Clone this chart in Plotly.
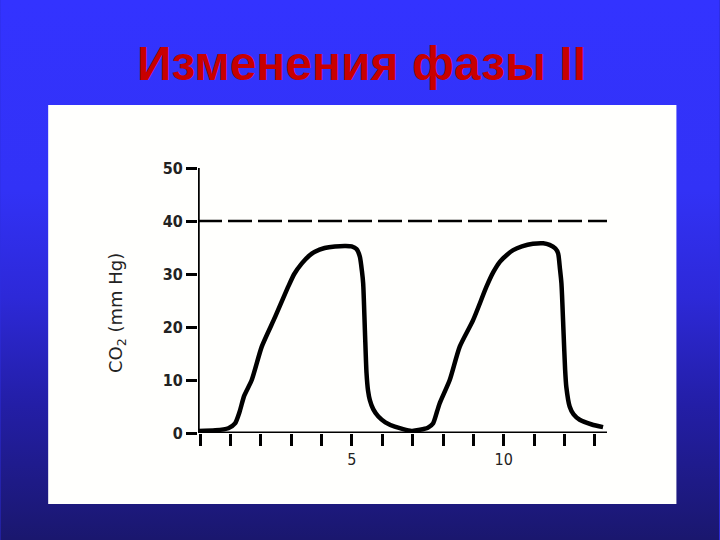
import base64
import plotly.graph_objects as go

# ---- data ----
time_s = [-0.05, 0.5, 0.93, 1.15, 1.3, 1.45, 1.7, 2.03, 2.47, 2.9, 3.1, 3.35, 3.6, 3.78,
          4.1, 4.44, 4.8, 4.99, 5.15, 5.26, 5.33, 5.37, 5.43, 5.48, 5.53, 5.59, 5.7, 5.87,
          6.1, 6.41, 6.96, 7.24, 7.5, 7.67, 7.8, 7.89, 8.22, 8.55, 8.99, 9.43, 9.65, 9.87,
          10.1, 10.31, 10.6, 10.96, 11.3, 11.51, 11.7, 11.79, 11.85, 11.9, 11.97, 12.02,
          12.06, 12.17, 12.3, 12.5, 12.9, 13.27]
co2_mmhg = [0.4, 0.5, 0.9, 1.8, 4.0, 7.0, 10.0, 16.3, 21.9, 27.6, 30.0, 32.0, 33.5, 34.2,
            34.9, 35.2, 35.3, 35.2, 34.7, 33.3, 30.5, 28.2, 18.8, 11.3, 8.0, 6.2, 4.5, 3.1,
            2.0, 1.2, 0.4, 0.6, 1.0, 1.8, 4.0, 5.6, 10.0, 16.3, 21.3, 27.6, 30.3, 32.3,
            33.6, 34.5, 35.2, 35.7, 35.8, 35.5, 34.8, 33.9, 31.0, 28.2, 18.8, 12.0,
            8.7, 5.0, 3.5, 2.5, 1.6, 1.1]
reference_level = 40
x_minor_ticks = list(range(0, 14))
x_label_ticks = [5, 10]
x_label_text = ["5", "10"]
y_tick_values = [0, 10, 20, 30, 40, 50]

title_text = "Изменения фазы II"
y_title_text = "CO<sub>2</sub> (mm Hg)"

# ---- geometry (pixels in 720x540 page) ----
W, H = 720, 540
PL, PR, PT, PB = 198.0, 607.5, 168.0, 433.0
XR = [-0.07, 13.4]
YR = [0, 50]


def px(xp):
    return (xp - PL) / (PR - PL)


def py(yp):
    return (PB - yp) / (PB - PT)


# vertical gradient background as an svg image
svg = (
    '<svg xmlns="http://www.w3.org/2000/svg" width="720" height="540" preserveAspectRatio="none">'
    '<defs><linearGradient id="g" x1="0" y1="0" x2="0" y2="1">'
    '<stop offset="0" stop-color="#3333ff"/>'
    '<stop offset="0.35" stop-color="#3232f6"/>'
    '<stop offset="0.55" stop-color="#2d29d8"/>'
    '<stop offset="0.75" stop-color="#231ea6"/>'
    '<stop offset="1" stop-color="#1a176e"/>'
    '</linearGradient></defs>'
    '<rect width="720" height="540" fill="url(#g)"/></svg>'
)
svg_uri = "data:image/svg+xml;base64," + base64.b64encode(svg.encode()).decode()

fig = go.Figure()
fig.add_trace(go.Scatter(
    x=time_s, y=co2_mmhg, mode="lines",
    line=dict(color="black", width=4.5, shape="spline", smoothing=0.6),
    cliponaxis=False, hoverinfo="skip", showlegend=False,
))

fig.add_shape(type="line", xref="x", yref="y", x0=XR[0], x1=XR[1],
              y0=reference_level, y1=reference_level,
              line=dict(color="black", width=2.5, dash="24px,6px"))

fig.add_layout_image(dict(
    source=svg_uri, xref="paper", yref="paper",
    x=px(0), y=py(0), sizex=px(W) - px(0), sizey=py(0) - py(H),
    xanchor="left", yanchor="top", sizing="stretch", layer="below",
))
fig.add_shape(type="rect", xref="paper", yref="paper", layer="below",
              x0=px(48), x1=px(677), y0=py(504), y1=py(105),
              fillcolor="#fffffd", line=dict(width=0))

fig.add_annotation(text=title_text, xref="paper", yref="paper",
                   x=px(362), y=py(63), showarrow=False,
                   xanchor="center", yanchor="middle",
                   font=dict(family="Liberation Sans, Arial, sans-serif",
                             size=48, color="#c80000", weight="bold"))
fig.add_annotation(text=y_title_text, xref="paper", yref="paper",
                   x=px(117), y=py(313), showarrow=False, textangle=-90,
                   xanchor="center", yanchor="middle",
                   font=dict(family="DejaVu Sans, sans-serif",
                             size=18, color="#222222"))

fig.update_layout(
    width=W, height=H,
    margin=dict(l=PL, r=W - PR, t=PT, b=H - PB, pad=0),
    paper_bgcolor="#2d2de0",
    plot_bgcolor="rgba(0,0,0,0)",
    xaxis=dict(range=XR, showgrid=False, zeroline=False, showline=False,
               tickmode="array", tickvals=x_label_ticks, ticktext=x_label_text,
               ticks="outside", ticklen=12, tickwidth=2.5, tickcolor="black",
               tickfont=dict(family="DejaVu Sans Condensed, sans-serif", size=16, color="#222222"),
               minor=dict(tickmode="array", tickvals=x_minor_ticks, ticks="outside",
                          ticklen=12, tickwidth=2.5, tickcolor="black", showgrid=False),
               fixedrange=True),
    yaxis=dict(range=YR, showgrid=False, zeroline=False, showline=False,
               tickmode="array", tickvals=y_tick_values,
               ticks="outside", ticklen=11, tickwidth=3, tickcolor="black",
               tickfont=dict(family="DejaVu Sans Condensed, sans-serif", size=16,
                             color="#222222", weight="bold"),
               fixedrange=True),
)
# axis lines
fig.add_shape(type="line", xref="x", yref="y", x0=XR[0], x1=XR[1], y0=0, y1=0,
              line=dict(color="black", width=3))
fig.add_shape(type="line", xref="x", yref="y", x0=XR[0], x1=XR[0], y0=0, y1=50,
              line=dict(color="black", width=3.5))

fig.write_html("out.html", config={"displayModeBar": False},
               post_script="document.body.style.margin='0';")
